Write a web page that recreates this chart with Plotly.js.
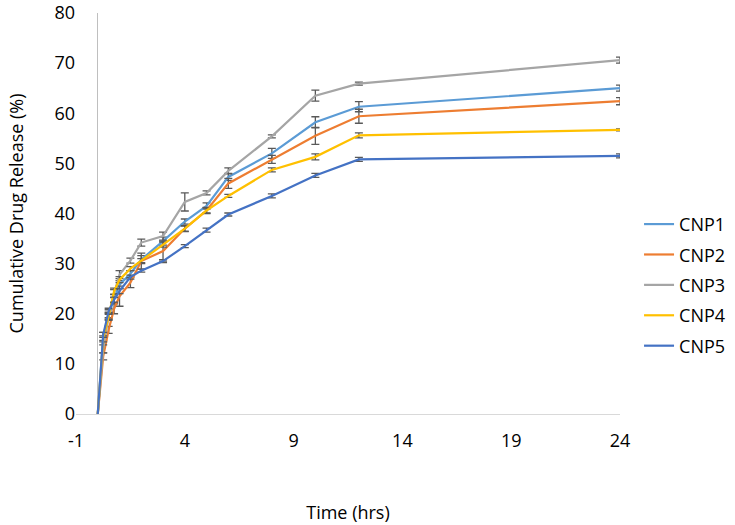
<!DOCTYPE html>
<html>
<head>
<meta charset="utf-8">
<script src="https://cdn.plot.ly/plotly-3.0.1.min.js"></script>
<style>html,body{margin:0;padding:0;background:#fff;}#chart{width:735px;height:525px;}</style>
</head>
<body>
<div id="chart"></div>
<script>
const times = [0, 0.25, 0.5, 0.75, 1, 1.5, 2, 3, 4, 5, 6, 8, 10, 12, 24];
const seriesNames = ["CNP1", "CNP2", "CNP3", "CNP4", "CNP5"];
const cnp1 = [0, 15.5, 20, 23, 25.8, 28, 30.8, 34.5, 38.4, 41.5, 47.3, 52, 58.2, 61.3, 65];
const cnp2 = [0, 11.5, 16.8, 21, 23.5, 26.2, 30.5, 32.5, 37, 40.6, 46, 50.8, 55.5, 59.4, 62.4];
const cnp3 = [0, 13, 19.5, 24, 27.8, 30.6, 34.2, 35.5, 42.3, 44.1, 48.5, 55.4, 63.5, 65.9, 70.6];
const cnp4 = [0, 15, 19.5, 24.5, 26.8, 29, 30.6, 33.8, 37, 40.6, 43.5, 48.7, 51.3, 55.6, 56.7];
const cnp5 = [0, 15.8, 20.5, 22.8, 24.5, 27.3, 28.6, 30.5, 33.5, 36.7, 39.8, 43.5, 47.6, 50.8, 51.5];
const err1 = [NaN, 0.8, 0.8, 0.8, 0.8, 0.6, 0.8, 0.8, 0.5, 0.6, 0.7, 1.0, 1.1, 1.0, 0.6];
const err2 = [NaN, 0.7, 0.7, 1.0, 2.0, 1.0, 1.6, 2.0, 0.6, 0.6, 1.0, 0.8, 1.7, 1.4, 0.7];
const err3 = [NaN, 0.8, 0.8, 0.8, 0.8, 0.5, 0.7, 0.8, 1.8, 0.4, 0.6, 0.3, 1.1, 0.3, 0.6];
const err4 = [NaN, 0.6, 0.6, 0.6, 0.6, 0.4, 0.4, 0.5, 0.5, 0.5, 0.3, 0.4, 0.6, 0.5, 0.2];
const err5 = [NaN, 0.5, 0.6, 0.5, 0.5, 0.4, 0.3, 0.3, 0.3, 0.4, 0.3, 0.4, 0.4, 0.4, 0.4];
const xTicks = [-1, 4, 9, 14, 19, 24];
const yTicks = [0, 10, 20, 30, 40, 50, 60, 70, 80];

const values = [cnp1, cnp2, cnp3, cnp4, cnp5];
const errors = [err1, err2, err3, err4, err5];
const colors = ["#5B9BD5", "#ED7D31", "#A5A5A5", "#FFC000", "#4472C4"];
const FONT = "'Open Sans', 'Noto Sans', sans-serif";

const traces = seriesNames.map((name, i) => ({
  type: "scatter",
  mode: "lines",
  name: name,
  legendgroup: name,
  x: times,
  y: values[i],
  line: {color: colors[i], width: 2.2},
  error_y: {type: "data", array: errors[i], visible: true, color: "#595959", thickness: 1.3, width: 4}
}));

const layout = {
  width: 735,
  height: 525,
  margin: {l: 76, r: 115, t: 13, b: 111, autoexpand: false},
  paper_bgcolor: "#ffffff",
  plot_bgcolor: "#ffffff",
  font: {family: FONT, size: 18, color: "#000000"},
  showlegend: true,
  legend: {
    x: 1.035, xanchor: "left", y: 0.322, yanchor: "middle",
    font: {family: FONT, size: 18, color: "#000"},
    bgcolor: "rgba(0,0,0,0)", tracegroupgap: 4
  },
  xaxis: {
    range: [-1, 24],
    tickmode: "array",
    tickvals: xTicks,
    ticktext: xTicks.map(String),
    showgrid: false,
    zeroline: true,
    zerolinecolor: "#bfbfbf",
    zerolinewidth: 1,
    showline: true,
    linecolor: "#d9d9d9",
    linewidth: 1,
    ticks: "outside",
    ticklen: 10,
    tickcolor: "rgba(0,0,0,0)",
    tickfont: {family: FONT, size: 18, color: "#000"},
    title: {text: "Time (hrs)", font: {family: FONT, size: 18, color: "#000"}, standoff: 55},
    automargin: false
  },
  yaxis: {
    range: [0, 80],
    tickmode: "array",
    tickvals: yTicks,
    ticktext: yTicks.map(String),
    showgrid: false,
    zeroline: false,
    showline: false,
    ticks: "",
    tickfont: {family: FONT, size: 18, color: "#000"},
    title: {text: "Cumulative Drug Release (%)", font: {family: FONT, size: 18, color: "#000"}, standoff: 26},
    automargin: false
  }
};

Plotly.newPlot("chart", traces, layout, {displayModeBar: false, staticPlot: true});
</script>
</body>
</html>
